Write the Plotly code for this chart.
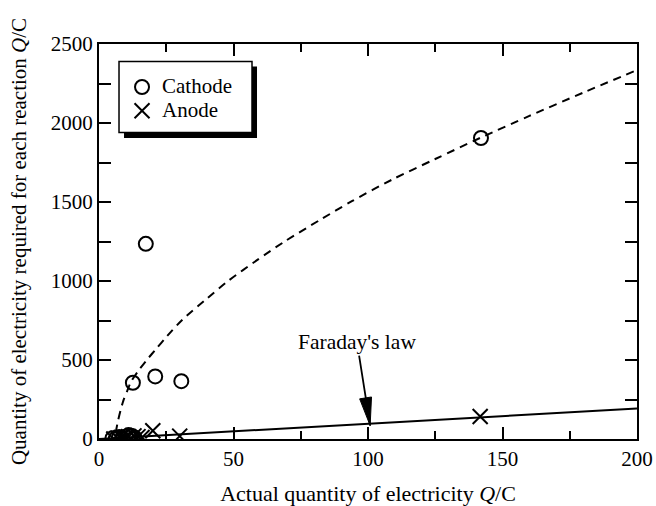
import plotly.graph_objects as go

# ---- data ----
cathode_x = [5, 6.2, 7.5, 8.6, 10, 11, 12, 13.2, 12.6, 17.4, 20.9, 30.6, 142]
cathode_y = [5, 0, 12, 5, 15, 25, 20, 10, 356, 1235, 396, 366, 1905]

anode_x = [5.5, 7, 8.2, 9.6, 11, 13, 14.5, 16, 20, 30, 141.7]
anode_y = [0, 5, 10, 5, 15, 20, 15, 10, 52, 18, 142]

# dashed trend curve
curve_x = [6.2, 7, 8, 9, 10.5, 12, 15, 18, 21, 25, 31, 39.5, 48, 59, 69, 82, 94,
           109, 125, 142, 160, 180, 200]
curve_y = [40, 110, 180, 240, 305, 365, 440, 505, 565, 645, 755, 880, 1000, 1135,
           1250, 1385, 1505, 1642, 1772, 1908, 2045, 2192, 2335]

# Faraday's law line
faraday_x = [0, 200]
faraday_y = [0, 193]

x_ticks = [0, 50, 100, 150, 200]
y_ticks = [0, 500, 1000, 1500, 2000, 2500]

SERIF = "Liberation Serif"

fig = go.Figure()

fig.add_trace(go.Scatter(
    x=faraday_x, y=faraday_y, mode="lines",
    line=dict(color="black", width=2), showlegend=False, hoverinfo="skip"))

fig.add_trace(go.Scatter(
    x=curve_x, y=curve_y, mode="lines",
    line=dict(color="black", width=2, dash="8px,6px", shape="spline", smoothing=0.8),
    showlegend=False, hoverinfo="skip"))

fig.add_trace(go.Scatter(
    x=cathode_x, y=cathode_y, mode="markers",
    name="<span style='font-size:21px'>Cathode</span>",
    marker=dict(symbol="circle-open", size=14, color="black", line=dict(width=2, color="black"))))

fig.add_trace(go.Scatter(
    x=anode_x, y=anode_y, mode="markers",
    name="<span style='font-size:21px'>Anode</span>",
    marker=dict(symbol="x-thin-open", size=15, color="black", line=dict(width=2, color="black"))))

# Faraday's law label with arrow shaft
fig.add_annotation(
    x=100.8, y=85, xref="x", yref="y",
    ax=95.9, ay=613, axref="x", ayref="y",
    text="Faraday's law", showarrow=True,
    arrowhead=0, arrowwidth=1.8, arrowcolor="black",
    font=dict(family=SERIF, size=21.5, color="black"))

# arrowhead (filled narrow triangle)
fig.add_shape(
    type="path", xref="x", yref="y",
    path="M 100.8 85 L 101.3 266 L 96.9 254 Z",
    fillcolor="black", line=dict(color="black", width=1))

# legend shadow and box
fig.add_shape(
    type="rect", xref="paper", yref="paper",
    x0=0.0465, x1=0.2937, y0=0.762, y1=0.943,
    fillcolor="black", line=dict(width=0), layer="above")
fig.add_shape(
    type="rect", xref="paper", yref="paper",
    x0=0.0372, x1=0.2844, y0=0.776, y1=0.9557,
    fillcolor="white", line=dict(color="black", width=1.5), layer="above")

axis_common = dict(
    showline=True, linecolor="black", linewidth=2, mirror="allticks",
    ticks="inside", tickcolor="black", tickwidth=1.8, ticklen=12,
    showgrid=False, zeroline=False, automargin=False,
    tickfont=dict(family=SERIF, size=21, color="black"),
)

fig.update_xaxes(
    range=[0, 200], tickvals=x_ticks, ticktext=[str(v) for v in x_ticks],
    minor=dict(ticks="inside", dtick=25, ticklen=8, tickcolor="black", tickwidth=1.8, showgrid=False),
    title=dict(text="Actual quantity of electricity <i>Q</i>/C",
               font=dict(family=SERIF, size=22, color="black"), standoff=19),
    **axis_common)

fig.update_yaxes(
    range=[0, 2500], tickvals=y_ticks, ticktext=[str(v) for v in y_ticks],
    minor=dict(ticks="inside", dtick=250, ticklen=12, tickcolor="black", tickwidth=1.8, showgrid=False),
    title=dict(text="Quantity of electricity required for each reaction <i>Q</i>/C",
               font=dict(family=SERIF, size=21, color="black"), standoff=18),
    **axis_common)

fig.update_layout(
    width=656, height=506,
    margin=dict(l=99, r=19, t=44, b=67),
    plot_bgcolor="white", paper_bgcolor="white",
    font=dict(family=SERIF, color="black"),
    legend=dict(
        x=0.0428, y=0.934, xanchor="left", yanchor="top",
        bgcolor="rgba(0,0,0,0)", borderwidth=0,
        font=dict(family=SERIF, size=16, color="black"),
        tracegroupgap=0),
)

fig.write_html("out.html", config={"displayModeBar": False},
               post_script="document.body.style.margin='0';")
